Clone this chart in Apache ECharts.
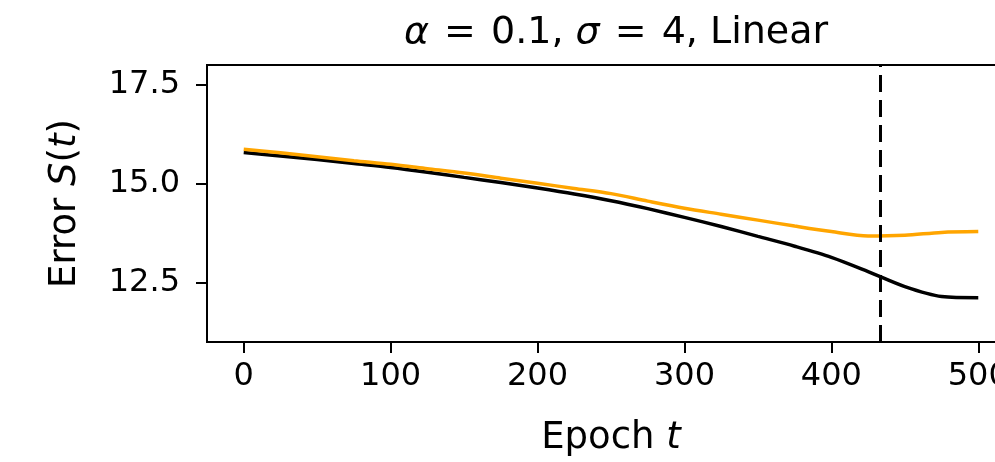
<!DOCTYPE html>
<html>
<head>
<meta charset="utf-8">
<script src="https://cdn.jsdelivr.net/npm/echarts@6/dist/echarts.min.js"></script>
<style>
  html, body { margin: 0; padding: 0; background: #fff; }
  #chart { width: 995px; height: 462px; }
</style>
</head>
<body>
<div id="chart"></div>
<script>
// Training error over epochs for two runs (alpha = 0.1, sigma = 4, linear model)
const epochs = [0, 25, 50, 75, 100, 125, 150, 175, 200, 225, 250, 275, 300, 325, 350, 375, 400, 425, 450, 475, 500];
const errorBlack = [15.79, 15.70, 15.61, 15.51, 15.41, 15.29, 15.16, 15.03, 14.89, 14.74, 14.57, 14.37, 14.15, 13.92, 13.67, 13.42, 13.14, 12.78, 12.40, 12.15, 12.12];
const errorOrange = [15.87, 15.78, 15.68, 15.58, 15.49, 15.38, 15.27, 15.14, 15.01, 14.88, 14.75, 14.56, 14.38, 14.23, 14.08, 13.93, 13.79, 13.68, 13.70, 13.77, 13.79];
const xTicks = [0, 100, 200, 300, 400, 500];
const yTicks = [12.5, 15.0, 17.5];
const stopEpoch = 433;

const FONT = 'DejaVu Sans';
const chart = echarts.init(document.getElementById('chart'), null, { renderer: 'canvas' });

const pairs = (xs, ys) => xs.map((x, i) => [x, ys[i]]);
const mathStyle = size => ({ fontFamily: FONT, fontSize: size, fontStyle: 'italic', color: '#000' });

chart.setOption({
  animation: false,
  backgroundColor: '#ffffff',
  title: {
    text: '{i|α} {s|=} 0.1, {i|σ} {s|=} 4, Linear',
    left: 611,
    top: 9,
    textAlign: 'center',
    textStyle: {
      fontFamily: FONT, fontSize: 38, fontWeight: 'normal', color: '#000',
      rich: {
        i: mathStyle(38),
        s: { fontFamily: FONT, fontSize: 38, color: '#000', padding: [0, 3] }
      }
    }
  },
  grid: {
    left: 207, top: 65, width: 808, height: 277,
    outerBoundsMode: 'none', containLabel: false,
    show: true, borderColor: '#000', borderWidth: 2, backgroundColor: 'transparent'
  },
  xAxis: {
    type: 'value', min: -25, max: 525,
    name: 'Epoch {i|t}', nameLocation: 'middle', nameGap: 78,
    nameTextStyle: {
      fontFamily: FONT, fontSize: 37, color: '#000',
      rich: { i: mathStyle(37) }
    },
    axisLine: { show: true, onZero: false, lineStyle: { color: '#000', width: 2 } },
    axisTick: { show: true, customValues: xTicks, length: 11, lineStyle: { color: '#000', width: 2 } },
    axisLabel: { customValues: xTicks, margin: 19, fontFamily: FONT, fontSize: 32, color: '#000' },
    splitLine: { show: false }
  },
  yAxis: {
    type: 'value', min: 11, max: 18,
    name: 'Error {i|S}({i|t})', nameLocation: 'middle', nameGap: 123, nameRotate: 90,
    nameTextStyle: {
      fontFamily: FONT, fontSize: 37, color: '#000',
      rich: { i: mathStyle(37) }
    },
    axisLine: { show: true, onZero: false, lineStyle: { color: '#000', width: 2 } },
    axisTick: { show: true, customValues: yTicks, length: 11, lineStyle: { color: '#000', width: 2 } },
    axisLabel: {
      customValues: yTicks, margin: 27, fontFamily: FONT, fontSize: 32, color: '#000',
      formatter: v => v.toFixed(1)
    },
    splitLine: { show: false }
  },
  series: [
    {
      type: 'line', data: pairs(epochs, errorBlack), smooth: 0.3, showSymbol: false,
      lineStyle: { color: '#000000', width: 3.5 }, z: 2,
      markLine: {
        silent: true, symbol: 'none', label: { show: false },
        lineStyle: { color: '#000', width: 3, type: [17, 8] },
        data: [{ xAxis: stopEpoch }]
      }
    },
    {
      type: 'line', data: pairs(epochs, errorOrange), smooth: 0.3, showSymbol: false,
      lineStyle: { color: '#FFA500', width: 3.5 }, z: 3
    }
  ]
});
</script>
</body>
</html>
